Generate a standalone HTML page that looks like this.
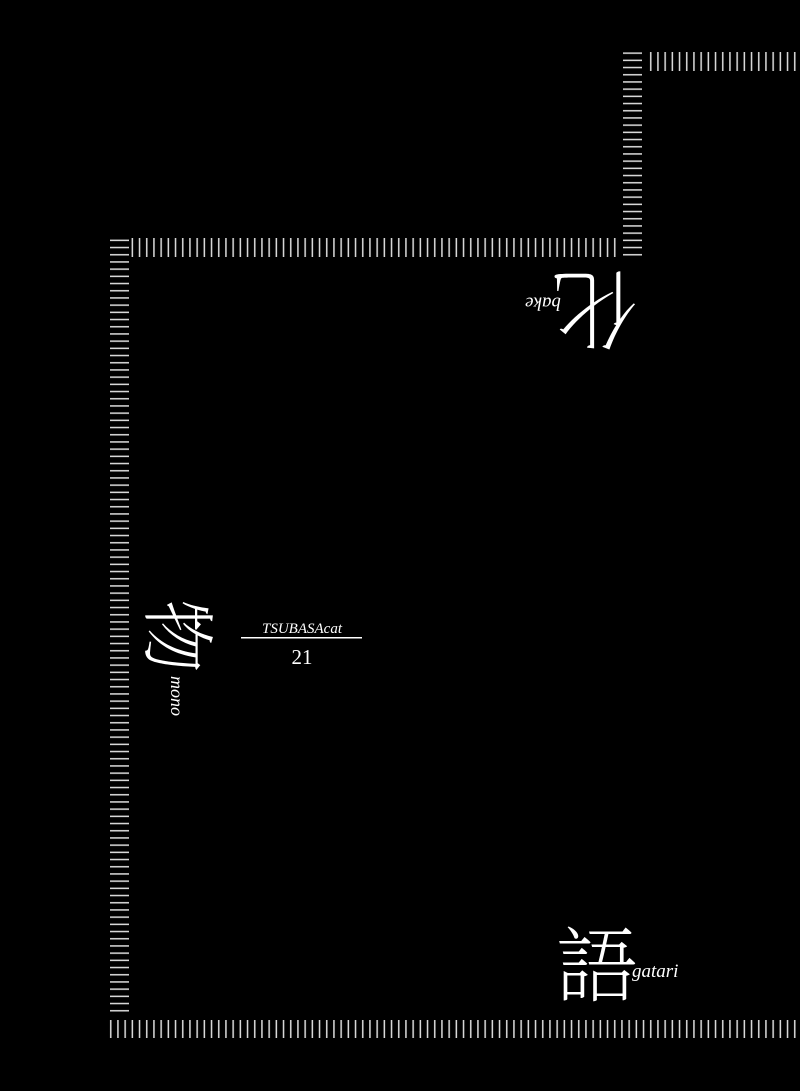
<!DOCTYPE html>
<html><head><meta charset="utf-8"><style>
html,body{margin:0;padding:0;background:#000;}
svg{display:block}
</style></head><body>
<svg width="800" height="1091" viewBox="0 0 800 1091" xmlns="http://www.w3.org/2000/svg">
<defs>
<pattern id="h" x="0" y="0" width="20" height="7.2" patternUnits="userSpaceOnUse"><rect x="0" y="2" width="20" height="1.5" fill="#ddd"/></pattern>
<pattern id="v" x="0" y="0" width="7.2" height="20" patternUnits="userSpaceOnUse"><rect x="2" y="0" width="1.5" height="20" fill="#ddd"/></pattern>
</defs>
<rect width="800" height="1091" fill="#000"/>
<rect x="623" y="50" width="19" height="207" fill="url(#h)"/>
<rect x="647" y="52" width="153" height="19" fill="url(#v)"/>
<rect x="110" y="236" width="19" height="779" fill="url(#h)"/>
<rect x="131" y="238" width="490" height="19" fill="url(#v)"/>
<rect x="108" y="1020" width="692" height="18" fill="url(#v)"/>
<text x="594" y="300" font-family="Noto Serif CJK SC, Noto Sans CJK SC, serif" font-size="86" font-weight="200" fill="#fff" text-anchor="middle" dominant-baseline="middle" transform="rotate(180 594 300)">化</text>
<text x="543" y="302" font-family="Liberation Serif, serif" font-style="italic" font-size="19" fill="#fff" text-anchor="middle" dominant-baseline="middle" transform="rotate(180 543 302)">bake</text>
<text x="170" y="636" font-family="Noto Serif CJK SC, Noto Sans CJK SC, serif" font-size="74" font-weight="200" fill="#fff" text-anchor="middle" dominant-baseline="middle" transform="rotate(90 170 636)">物</text>
<text x="175" y="696" font-family="Liberation Serif, serif" font-style="italic" font-size="18" fill="#fff" text-anchor="middle" dominant-baseline="middle" transform="rotate(90 175 696)">mono</text>
<text x="302" y="633" font-family="Liberation Serif, serif" font-style="italic" font-size="15" fill="#fff" text-anchor="middle">TSUBASAcat</text>
<rect x="241" y="637" width="121" height="1.5" fill="#fff"/>
<text x="302" y="664" font-family="Liberation Serif, serif" font-size="21" fill="#fff" text-anchor="middle">21</text>
<text x="597" y="974" font-family="Noto Serif CJK SC, Noto Sans CJK SC, serif" font-size="82" font-weight="200" fill="#fff" text-anchor="middle" dominant-baseline="middle">語</text>
<text x="632" y="977" font-family="Liberation Serif, serif" font-style="italic" font-size="19" fill="#fff">gatari</text>
</svg>
</body></html>
